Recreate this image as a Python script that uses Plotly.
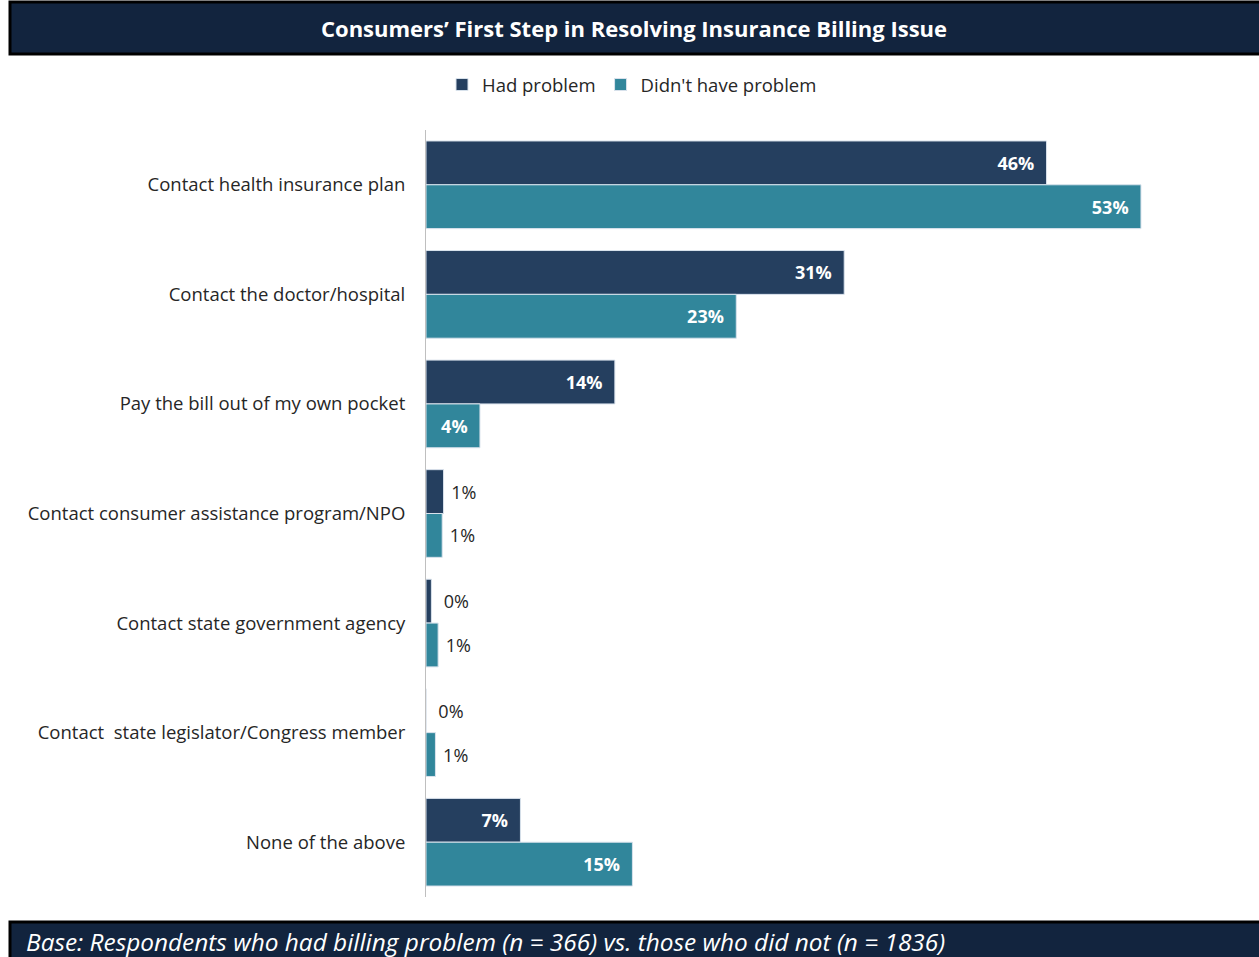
import plotly.graph_objects as go

categories = [
    "Contact health insurance plan",
    "Contact the doctor/hospital",
    "Pay the bill out of my own pocket",
    "Contact consumer assistance program/NPO",
    "Contact state government agency",
    "Contact  state legislator/Congress member",
    "None of the above",
]
had_problem = [46, 31, 14, 1.3, 0.4, 0.0, 7.0]
had_labels = ["46%", "31%", "14%", "1%", "0%", "0%", "7%"]
no_problem = [53, 23, 4, 1.2, 0.9, 0.7, 15.3]
no_labels = ["53%", "23%", "4%", "1%", "1%", "1%", "15%"]

W, H = 1259, 957
L, R, T, B = 426, 33, 130, 60
PW, PH = W - L - R, H - T - B

def px_x(p):
    return (p - L) / PW

def px_y(p):
    return (H - B - p) / PH

FONT = "Open Sans"
NAVY = "#253f5f"
TEAL = "#31869b"
NB = "\u00a0"

def positions(vals):
    return ["inside" if v >= 3 else "outside" for v in vals]

def pad(labels, vals):
    out = []
    for t, v in zip(labels, vals):
        if v >= 3:
            out.append(t + NB * 2)
        elif v < 0.5:
            out.append(NB * 2 + t)
        else:
            out.append(NB + t)
    return out

fig = go.Figure()
for name, vals, labels, color in [
    ("Had problem", had_problem, had_labels, NAVY),
    ("Didn't have problem", no_problem, no_labels, TEAL),
]:
    fig.add_trace(go.Bar(
        y=categories, x=vals, name=name, orientation="h",
        marker=dict(color=color, line=dict(color="#d9e2ec", width=1)),
        text=pad(labels, vals), textposition=positions(vals), insidetextanchor="end",
        textangle=0, cliponaxis=False,
        insidetextfont=dict(family=FONT, size=18, color="white", weight="bold"),
        outsidetextfont=dict(family=FONT, size=18, color="#262626"),
        hoverinfo="skip",
    ))

shapes = [
    dict(type="rect", xref="paper", yref="paper",
         x0=px_x(10), x1=px_x(1262), y0=px_y(54), y1=px_y(2),
         fillcolor="#12243e", line=dict(color="black", width=3), layer="above"),
    dict(type="rect", xref="paper", yref="paper",
         x0=px_x(10), x1=px_x(1262), y0=px_y(962), y1=px_y(922),
         fillcolor="#12243e", line=dict(color="black", width=3), layer="above"),
]
annotations = [
    dict(text="<b>Consumers\u2019 First Step in Resolving Insurance Billing Issue</b>",
         xref="paper", yref="paper", x=px_x(634), y=px_y(28),
         xanchor="center", yanchor="middle", showarrow=False,
         font=dict(family=FONT, size=22, color="white")),
    dict(text="<i>Base: Respondents who had billing problem (n = 366) vs. those who did not (n = 1836)</i>",
         xref="paper", yref="paper", x=px_x(24), y=px_y(941),
         xanchor="left", yanchor="middle", showarrow=False,
         font=dict(family=FONT, size=24.4, color="white")),
]

fig.update_layout(
    width=W, height=H,
    margin=dict(l=L, r=R, t=T, b=B, autoexpand=False),
    barmode="group", bargap=0.2, bargroupgap=0,
    plot_bgcolor="white", paper_bgcolor="white",
    font=dict(family=FONT, size=18, color="#262626"),
    showlegend=True,
    legend=dict(orientation="h", x=px_x(442), y=px_y(85),
                xanchor="left", yanchor="middle",
                font=dict(family=FONT, size=18.5, color="#262626"),
                traceorder="normal", itemwidth=30),
    shapes=shapes, annotations=annotations,
    xaxis=dict(range=[0, PW / 13.49], showgrid=False, showticklabels=False,
               zeroline=False, showline=False, fixedrange=True),
    yaxis=dict(autorange="reversed", showgrid=False, showline=True,
               linecolor="#bfbfbf", linewidth=1, ticks="",
               ticklabelstandoff=16, tickfont=dict(family=FONT, size=18.5, color="#262626")),
)

fig.write_html("out.html", config={"displayModeBar": False},
               post_script="document.body.style.margin='0';")
